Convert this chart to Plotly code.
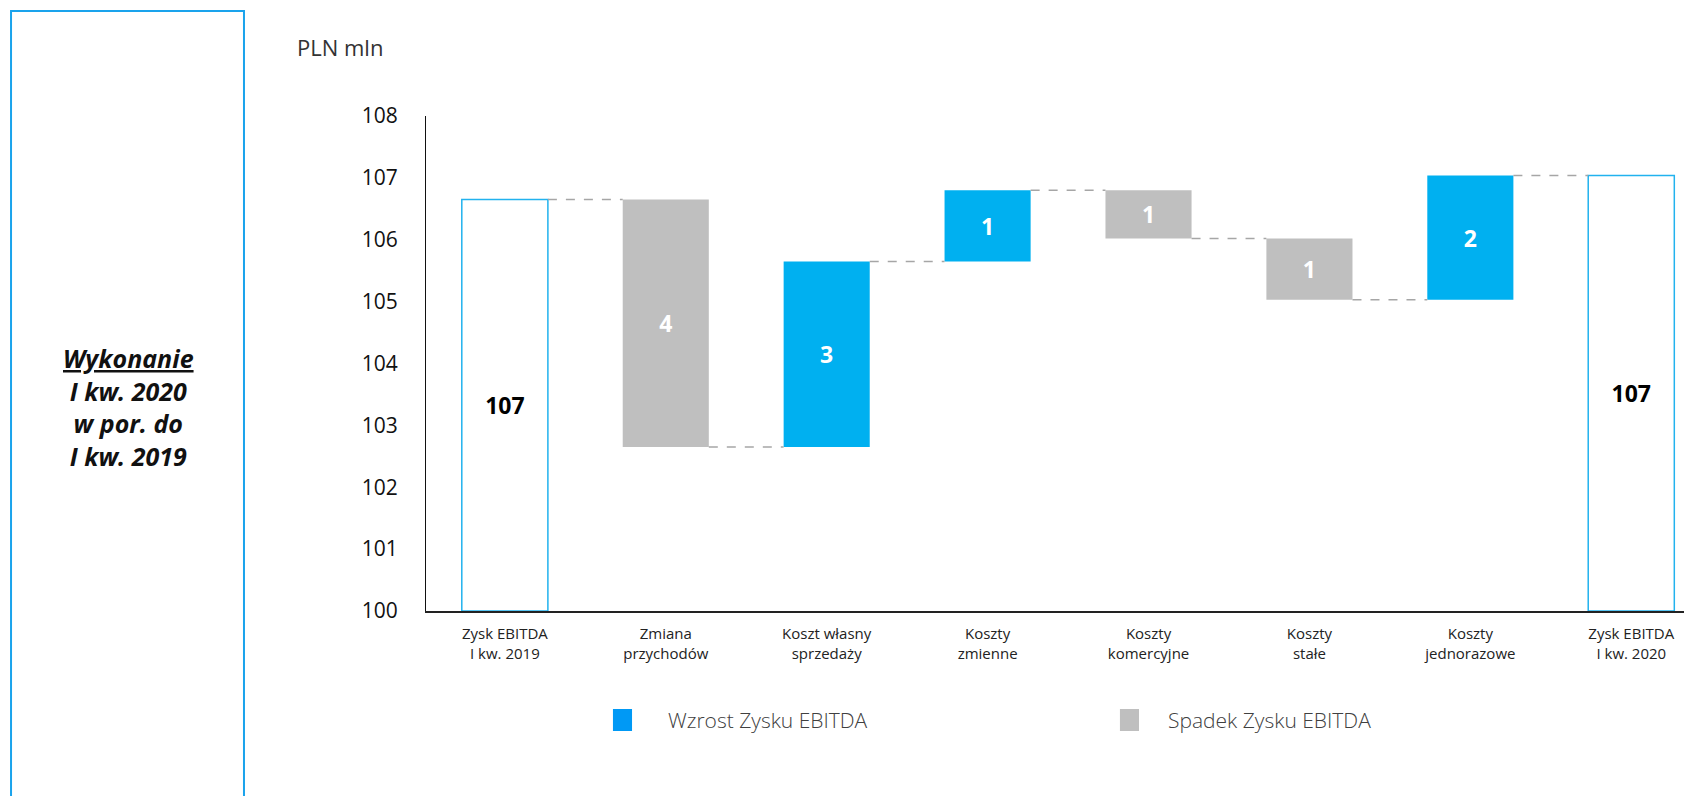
import plotly.graph_objects as go

categories = ["Zysk EBITDA<br>I kw. 2019", "Zmiana<br>przychodów", "Koszt własny<br>sprzedaży",
              "Koszty<br>zmienne", "Koszty<br>komercyjne", "Koszty<br>stałe",
              "Koszty<br>jednorazowe", "Zysk EBITDA<br>I kw. 2020"]
start_value = 106.65
deltas = [-4.0, 3.0, 1.15, -0.78, -0.99, 2.01]
y_ticks = [100, 101, 102, 103, 104, 105, 106, 107, 108]
axis_min = 100

BLUE = "#00B0F0"
GREY = "#BFBFBF"
OUTLINE = "#22B2EE"

# build waterfall geometry from data
bases, heights, fills, lines, texts, tcolors = [], [], [], [], [], []
bases.append(axis_min); heights.append(start_value - axis_min)
fills.append("white"); lines.append(OUTLINE); texts.append(f"{round(start_value):.0f}"); tcolors.append("black")
level = start_value
levels = [level]
for d in deltas:
    new = level + d
    bases.append(min(level, new)); heights.append(abs(d))
    fills.append(BLUE if d > 0 else GREY); lines.append("rgba(0,0,0,0)")
    texts.append(f"{round(abs(d)):.0f}"); tcolors.append("white")
    level = new
    levels.append(level)
end_value = level
bases.append(axis_min); heights.append(end_value - axis_min)
fills.append("white"); lines.append(OUTLINE); texts.append(f"{round(end_value):.0f}"); tcolors.append("black")
levels.append(end_value)

W = 0.535
fig = go.Figure()
fig.add_trace(go.Bar(
    x=list(range(len(categories))), y=heights, base=bases, width=W,
    marker=dict(color=fills, line=dict(color=lines, width=1.5)),
    text=texts, texttemplate="<b>%{text}</b>", textposition="inside",
    insidetextanchor="middle", textangle=0, constraintext="none",
    insidetextfont=dict(color=tcolors, size=23, family="Open Sans"),
    showlegend=False, hoverinfo="skip",
))

# connectors
for i in range(len(categories) - 1):
    fig.add_shape(type="line", xref="x", yref="y",
                  x0=i + W / 2, x1=i + 1 - W / 2, y0=levels[i], y1=levels[i],
                  line=dict(color="#A6A6A6", width=1.5, dash="dash"))

fig.update_layout(
    width=1684, height=788,
    margin=dict(l=418, r=2, t=108, b=185),
    paper_bgcolor="white", plot_bgcolor="white",
    font=dict(family="Open Sans", color="#222222"),
    xaxis=dict(tickmode="array", tickvals=list(range(len(categories))), ticktext=categories,
               range=[-0.49, 7.365], showgrid=False, zeroline=False,
               showline=True, linecolor="#222222", linewidth=2, ticks="", automargin=False,
               tickfont=dict(size=15, color="#222222"), ticklabelstandoff=8),
    yaxis=dict(range=[axis_min, 108], tickvals=y_ticks, showgrid=False, zeroline=False,
               showline=True, linecolor="#111111", linewidth=1, ticks="", automargin=False,
               tickfont=dict(size=21, color="#111111"), ticklabelstandoff=23),
)

# left frame box
fig.add_shape(type="rect", xref="paper", yref="paper",
              x0=-0.3283, x1=-0.1440, y0=-0.40, y1=1.2121,
              line=dict(color="#1AA3EC", width=2), fillcolor="rgba(0,0,0,0)")
fig.add_annotation(xref="paper", yref="paper", x=-0.235, y=0.412, showarrow=False,
                   xanchor="center", yanchor="middle",
                   text="<b><i><u>Wykonanie</u><br>I kw. 2020<br>w por. do<br>I kw. 2019</i></b>",
                   font=dict(size=25, color="#111111", family="Open Sans"), align="center")
fig.add_annotation(xref="paper", yref="paper", x=-0.1036, y=1.139, xanchor="left", yanchor="middle",
                   showarrow=False, text="PLN mln", font=dict(size=22, color="#333333"))

# legend
for (x0, x1, col, tx, label) in [(0.1479, 0.1630, "#0099F5", 0.1899, "Wzrost Zysku EBITDA"),
                                  (0.5490, 0.5641, GREY, 0.5854, "Spadek Zysku EBITDA")]:
    fig.add_shape(type="rect", xref="paper", yref="paper", x0=x0, x1=x1, y0=-0.2424, y1=-0.198,
                  line=dict(width=0), fillcolor=col)
    fig.add_annotation(xref="paper", yref="paper", x=tx, y=-0.2202, xanchor="left", yanchor="middle",
                       showarrow=False, text=label,
                       font=dict(size=21, color="#404040", weight=300))

fig.write_html("out.html")
